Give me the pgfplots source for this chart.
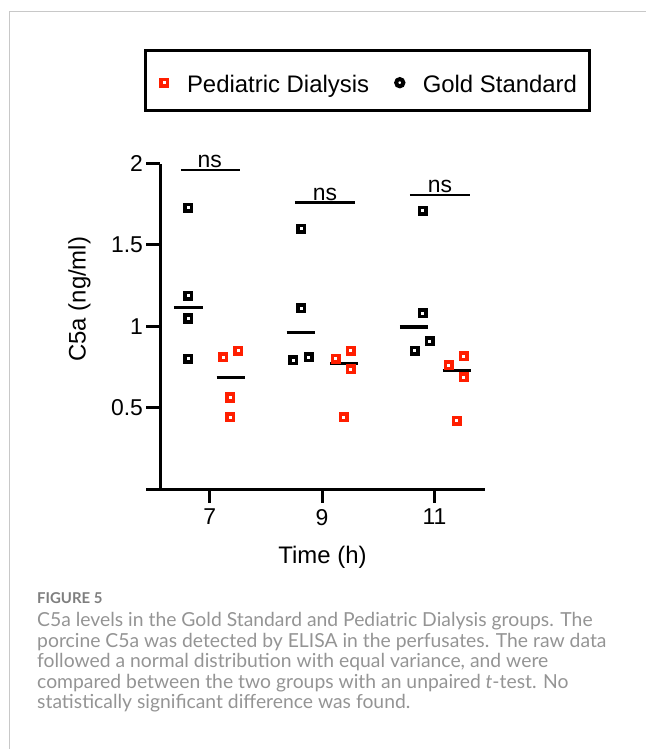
\documentclass[border=0pt]{standalone}
\usepackage{pgfplots}
\pgfplotsset{compat=1.18}
\usepackage{pgfplotstable}
\usepackage{fontspec}
\setmainfont{Liberation Sans}
\newfontfamily\capfont{Lato}
\definecolor{pdred}{RGB}{255,30,0}
\definecolor{capgray}{RGB}{148,148,148}
\definecolor{framegray}{RGB}{200,200,200}

% Gold Standard
\pgfplotstableread{
x y
6.619 1.727
6.619 1.187
6.619 1.048
6.619 0.799
8.625 1.598
8.625 1.110
8.488 0.791
8.762 0.809
10.79 1.709
10.79 1.081
10.65 0.850
10.92 0.909
}\goldtable

% Pediatric Dialysis
\pgfplotstableread{
x y
7.242 0.809
7.509 0.848
7.367 0.562
7.367 0.441
9.242 0.799
9.514 0.848
9.514 0.737
9.384 0.441
11.253 0.760
11.525 0.817
11.525 0.686
11.395 0.420
}\pedtable

\begin{document}
\begin{tikzpicture}
\path[use as bounding box] (0bp,0bp) rectangle (646bp,-749bp);
\draw[framegray, line width=1bp] (9bp,-749bp) -- (9bp,-11bp) -- (646bp,-11bp);
\begin{axis}[
  at={(160bp,-489bp)}, anchor=south west,
  scale only axis, width=325bp, height=325.5bp,
  xmin=6.116, xmax=11.899, ymin=0, ymax=2,
  axis lines=left,
  axis line style={-, line width=3bp, black},
  x axis line style={shorten <=-13.7bp},
  xtick={7,9,11}, ytick={0.5,1,1.5,2},
  tick align=outside, major tick length=13.5bp,
  tick style={black, line width=3bp},
  every tick label/.append style={font=\fontsize{23}{27}\selectfont},
  xticklabel style={yshift=-3bp},
  /pgf/number format/assume math mode=true,
  xlabel={Time (h)}, ylabel={C5a (ng/ml)},
  label style={font=\fontsize{24}{28}\selectfont},
  xlabel style={at={(axis description cs:0.5,-0.209)}, anchor=center},
  ylabel style={at={(axis description cs:-0.248,0.583)}, anchor=center},
  clip=false,
  legend style={at={(axis description cs:0.6385,1.255)}, anchor=center,
    draw=black, line width=3bp, fill=white,
    inner xsep=13bp, inner ysep=15.9bp,
    font=\fontsize{24}{28}\selectfont,
    nodes={inner sep=0pt},
    /tikz/column 2/.style={column sep=24.7bp}},
  legend columns=2,
  legend image code/.code={
    \path (-4.5bp,-6bp) (21.5bp,6bp);
    \draw[#1] plot coordinates {(0bp,-2.2bp)};},
]
\addlegendimage{only marks, mark=square*, mark size=3.3bp,
  mark options={draw=pdred, fill=white, line width=3.6bp, solid}}
\addlegendentry{\rule[-3.6bp]{0pt}{29.6bp}Pediatric Dialysis}
\addlegendimage{only marks, mark=*, mark size=3.6bp,
  mark options={draw=black, fill=white, line width=4bp, solid}}
\addlegendentry{\rule[-3.6bp]{0pt}{29.6bp}Gold Standard}

\addplot[only marks, mark=square*, mark size=3.3bp,
  mark options={draw=black, fill=white, line width=3.6bp, solid}, forget plot]
  table {\goldtable};
\addplot[only marks, mark=square*, mark size=3.3bp,
  mark options={draw=pdred, fill=white, line width=3.6bp, solid}, forget plot]
  table {\pedtable};

% medians
\addplot[black, line width=3.2bp, forget plot] coordinates {(6.365,1.117) (6.875,1.117)};
\addplot[black, line width=3.2bp, forget plot] coordinates {(7.125,0.684) (7.628,0.684)};
\addplot[black, line width=3.2bp, forget plot] coordinates {(8.370,0.960) (8.879,0.960)};
\addplot[black, line width=3.2bp, forget plot] coordinates {(9.141,0.772) (9.633,0.772)};
\addplot[black, line width=3.2bp, forget plot] coordinates {(10.386,0.995) (10.890,0.995)};
\addplot[black, line width=3.2bp, forget plot] coordinates {(11.146,0.727) (11.649,0.727)};

% ns brackets
\addplot[black, line width=2.2bp, forget plot] coordinates {(6.489,1.960) (7.544,1.960)};
\addplot[black, line width=2.2bp, forget plot] coordinates {(8.518,1.760) (9.585,1.760)};
\addplot[black, line width=2.2bp, forget plot] coordinates {(10.564,1.807) (11.632,1.807)};
\node[anchor=base, inner sep=0pt, yshift=2.5bp, font=\fontsize{23}{27}\selectfont] at (axis cs:7.0,1.960) {ns};
\node[anchor=base, inner sep=0pt, yshift=2.5bp, font=\fontsize{23}{27}\selectfont] at (axis cs:9.052,1.760) {ns};
\node[anchor=base, inner sep=0pt, yshift=2.5bp, font=\fontsize{23}{27}\selectfont] at (axis cs:11.098,1.807) {ns};

% heavier tick strokes, as in the original
\pgfplotsinvokeforeach{0.5,1,1.5,2}{
  \draw[black, line width=3bp] (axis cs:6.116,#1) -- ++(-13.5bp,0bp);}
\pgfplotsinvokeforeach{7,9,11}{
  \draw[black, line width=3bp] (axis cs:#1,0) -- ++(0bp,-13.5bp);}
\end{axis}

\begin{scope}[inner sep=0pt]
\node[anchor=base west, font=\capfont\bfseries\fontsize{15}{18}\selectfont, text=capgray!85!black] at (37bp,-603.3bp) {FIGURE 5};
\node[anchor=base west, font=\capfont\fontsize{19.4}{20.5}\selectfont, text=capgray] at (37bp,-626.7bp) {C5a levels in the Gold Standard and Pediatric Dialysis groups. The};
\node[anchor=base west, font=\capfont\fontsize{19.4}{20.5}\selectfont, text=capgray] at (37bp,-647.2bp) {porcine C5a was detected by ELISA in the perfusates. The raw data};
\node[anchor=base west, font=\capfont\fontsize{19.4}{20.5}\selectfont, text=capgray] at (37bp,-667.7bp) {followed a normal distribution with equal variance, and were};
\node[anchor=base west, font=\capfont\fontsize{19.4}{20.5}\selectfont, text=capgray] at (37bp,-688.2bp) {compared between the two groups with an unpaired \textit{t}-test. No};
\node[anchor=base west, font=\capfont\fontsize{19.4}{20.5}\selectfont, text=capgray] at (37bp,-708.7bp) {statistically significant difference was found.};
\end{scope}
\end{tikzpicture}
\end{document}
